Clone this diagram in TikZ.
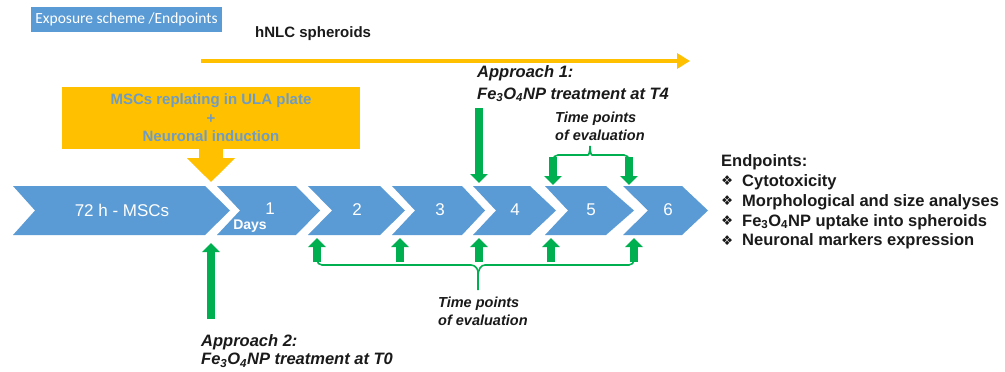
\documentclass[tikz,border=0pt]{standalone}
\usepackage{fontspec}
\setmainfont{Liberation Sans}
\newfontfamily\calibrifont{Carlito}
\newfontfamily\dingfont{DejaVu Sans}
\usetikzlibrary{arrows.meta,positioning}
\definecolor{expoBlue}{HTML}{5B9BD5}
\definecolor{expoYellow}{HTML}{FFC000}
\definecolor{expoGreen}{HTML}{00B050}
\definecolor{expoInk}{HTML}{1A1A1A}
\definecolor{expoMuted}{HTML}{6F9CC4}
\newcommand\ptbul{\makebox[21pt][l]{\raisebox{0.5pt}{\dingfont\fontsize{13.5}{13.5}\selectfont ❖}}}
\newcommand\feo{Fe\textsubscript{3}O\textsubscript{4}NP}

\begin{document}
\begin{tikzpicture}[x=1pt,y=-1pt,>=Latex,line join=miter]
\path[fill=white] (0,0) rectangle (1005,372);
\tikzset{chev/.style={fill=expoBlue,draw=none},daynum/.style={text=white,inner sep=0pt,font=\fontsize{17}{20}\selectfont},garrow/.style={draw=expoGreen,line width=8.5pt,-{Triangle[width=17pt,length=9pt]}},brace/.style={draw=expoGreen,line width=1.6pt,rounded corners=5pt},approach/.style={anchor=west,align=left,inner sep=0pt,text=expoInk},timept/.style={anchor=west,align=left,inner sep=0pt,text=expoInk,font=\bfseries\itshape\fontsize{14.5}{18}\selectfont}}
% header and spheroid line
\node[fill=expoBlue,text=white,font=\calibrifont\fontsize{15.5}{17}\selectfont,minimum width=191pt,minimum height=25pt,inner sep=0pt] (hdr) at (126.5,19.5) {Exposure scheme /Endpoints};
\node[anchor=west,inner sep=0pt,text=expoInk,font=\bfseries\fontsize{15}{18}\selectfont] (hnlc) at (255,34) {hNLC spheroids};
\coordinate (spStart) at (201,61); \coordinate (spEnd) at (690,61);
\draw[draw=expoYellow,line width=4pt,-{Triangle[width=15pt,length=13pt]}] (spStart) -- (spEnd);
% induction box
\node[fill=expoYellow,minimum width=298pt,minimum height=62pt,inner sep=0pt,align=center,text=expoMuted,font=\bfseries\fontsize{15}{18.5}\selectfont] (induct) at (211,118) {MSCs replating in ULA plate\\+\\Neuronal induction};
\coordinate (inductTip) at (211,182);
\draw[draw=expoYellow,line width=24pt,-{Triangle[width=47pt,length=24pt]}] (induct.south) -- (inductTip);
% time line chevrons
\foreach \a/\b/\c/\d in {13/35/205/230,217/240/296/320,308/332/380/405,392/415/462/485,473/496/530/556,545/568/606/634,623/648/682/708}
  \path[chev] (\a,186) -- (\c,186) -- (\d,210.5) -- (\c,235) -- (\a,235) -- (\b,210.5) -- cycle;
\node[daynum] (d0) at (122,210) {72 h - MSCs};
\node[daynum] (d1) at (270,209) {1};
\node[text=white,inner sep=0pt,font=\bfseries\fontsize{14}{16}\selectfont] (days) at (250,226) {Days};
\node[daynum] (d2) at (357,210) {2};
\node[daynum] (d3) at (440,210) {3};
\node[daynum] (d4) at (515,210) {4};
\node[daynum] (d5) at (591,210) {5};
\node[daynum] (d6) at (668,210) {6};
% approach 1 (top)
\node[approach,font=\bfseries\itshape\fontsize{16.5}{21.5}\selectfont] (ap1) at (477,84) {Approach 1:\\\feo{} treatment at T4};
\coordinate (ap1a) at (479,108); \coordinate (ap1b) at (479,183);
\draw[garrow] (ap1a) -- (ap1b);
\node[timept] (tpTop) at (555,126) {Time points\\of evaluation};
\coordinate (tt1a) at (553,157); \coordinate (tt1b) at (553,185);
\coordinate (tt2a) at (629,157); \coordinate (tt2b) at (629,185);
\draw[garrow] (tt1a) -- (tt1b); \draw[garrow] (tt2a) -- (tt2b);
\draw[brace] (553,163) -- (553,155) -- (583,155) .. controls (589,155) and (590,151) .. (590,146);
\draw[brace] (629,163) -- (629,155) -- (597,155) .. controls (591,155) and (590,151) .. (590,146);
% approach 2 (bottom)
\coordinate (ap2a) at (211,319); \coordinate (ap2b) at (211,243);
\draw[garrow] (ap2a) -- (ap2b);
\node[approach,font=\bfseries\itshape\fontsize{16.5}{18.5}\selectfont] (ap2) at (201,351) {Approach 2:\\\feo{} treatment at T0};
\foreach \x [count=\i] in {317,400,479,551,634}
  {\coordinate (tb\i a) at (\x,262); \coordinate (tb\i b) at (\x,238); \draw[garrow] (tb\i a) -- (tb\i b);}
\draw[brace] (317,256) -- (317,265) -- (466,265) .. controls (475,265) and (478,269) .. (478,277) -- (478,290);
\draw[brace] (634,256) -- (634,265) -- (490,265) .. controls (481,265) and (478,269) .. (478,277);
\node[timept] (tpBot) at (438,311) {Time points\\of evaluation};
% endpoints
\node[anchor=west,align=left,inner sep=0pt,text=expoInk,font=\bfseries\fontsize{16.5}{19.8}\selectfont] (ends) at (721,202) {Endpoints:\\\ptbul Cytotoxicity\\\ptbul Morphological and size analyses\\\ptbul \feo{} uptake into spheroids\\\ptbul Neuronal markers expression};
\end{tikzpicture}
\end{document}
